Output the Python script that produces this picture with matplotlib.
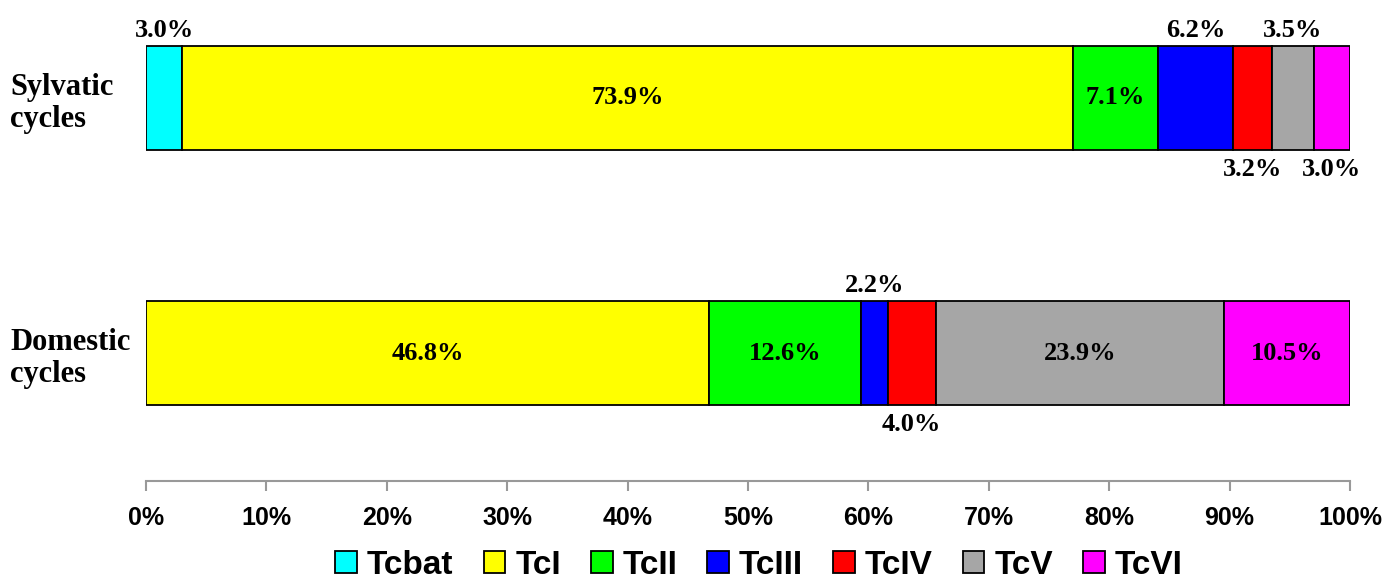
import matplotlib.pyplot as plt
import numpy as np

# data
cycles = ['Domestic\ncycles', 'Sylvatic\ncycles']
lineages = ['Tcbat', 'TcI', 'TcII', 'TcIII', 'TcIV', 'TcV', 'TcVI']
domestic = [0.0, 46.8, 12.6, 2.2, 4.0, 23.9, 10.5]
sylvatic = [3.0, 73.9, 7.1, 6.2, 3.2, 3.5, 3.0]
colors = ['#00FFFF', '#FFFF00', '#00FF00', '#0000FF', '#FF0000', '#A6A6A6', '#FF00FF']
# where small labels go: +1 above the bar, -1 below it
outside = {(0, 3): 1, (0, 4): -1,
           (1, 0): 1, (1, 3): 1, (1, 4): -1, (1, 5): 1, (1, 6): -1}

data = np.array([domestic, sylvatic])
data = data / data.sum(axis=1, keepdims=True) * 100  # percent stacked

fig = plt.figure(figsize=(13.95, 5.85), dpi=100)
ax = fig.add_axes([146 / 1395, 104 / 585, 1204 / 1395, 481 / 585])

ypos = np.arange(len(cycles))
h = 104 / 255
left = np.zeros(len(cycles))
for j, name in enumerate(lineages):
    ax.barh(ypos, data[:, j], left=left, height=h, color=colors[j],
            edgecolor='black', linewidth=1.3, label=name)
    for i in range(len(cycles)):
        raw = [domestic, sylvatic][i][j]
        if raw <= 0:
            left[i] += data[i, j]
            continue
        xc = left[i] + data[i, j] / 2
        txt = '{:.1f}%'.format(raw)
        kw = dict(fontsize=19, fontweight='bold', family='Liberation Serif', ha='center')
        side = outside.get((i, j), 0)
        if side == 1:
            ax.annotate(txt, (xc, ypos[i] + h / 2), xytext=(0, 3),
                        textcoords='offset points', va='bottom', **kw)
        elif side == -1:
            ax.annotate(txt, (xc, ypos[i] - h / 2), xytext=(0, -6),
                        textcoords='offset points', va='top', **kw)
        else:
            ax.text(xc, ypos[i], txt, va='center', **kw)
    left += data[:, j]

ax.set_xlim(0, 100)
ax.set_ylim(-128 / 255, 1 + 98 / 255)
ax.set_xticks(np.arange(0, 101, 10))
ax.set_xticklabels(['{}%'.format(v) for v in range(0, 101, 10)],
                   fontsize=18, fontweight='bold', family='Liberation Sans')
ax.tick_params(axis='x', colors='#999999', length=7, width=1.5, pad=11, labelcolor='black')

ax.set_yticks(ypos)
ax.set_yticklabels(cycles, fontsize=22, fontweight='bold', family='Liberation Serif',
                   ha='left', linespacing=1.15)
ax.tick_params(axis='y', length=0, pad=136 * 72 / 100)

for s in ['top', 'right', 'left']:
    ax.spines[s].set_visible(False)
ax.spines['bottom'].set_color('#999999')
ax.spines['bottom'].set_linewidth(1.5)

handles, labels = ax.get_legend_handles_labels()
fig.legend(handles, labels, loc='center', bbox_to_anchor=(759 / 1395, 20 / 585), ncol=7,
           frameon=False, handlelength=0.65, handleheight=0.65, handletextpad=0.3,
           columnspacing=0.9, borderpad=0.1,
           prop={'family': 'Liberation Sans', 'weight': 'bold', 'size': 24})

plt.savefig('out.png', dpi=100)
